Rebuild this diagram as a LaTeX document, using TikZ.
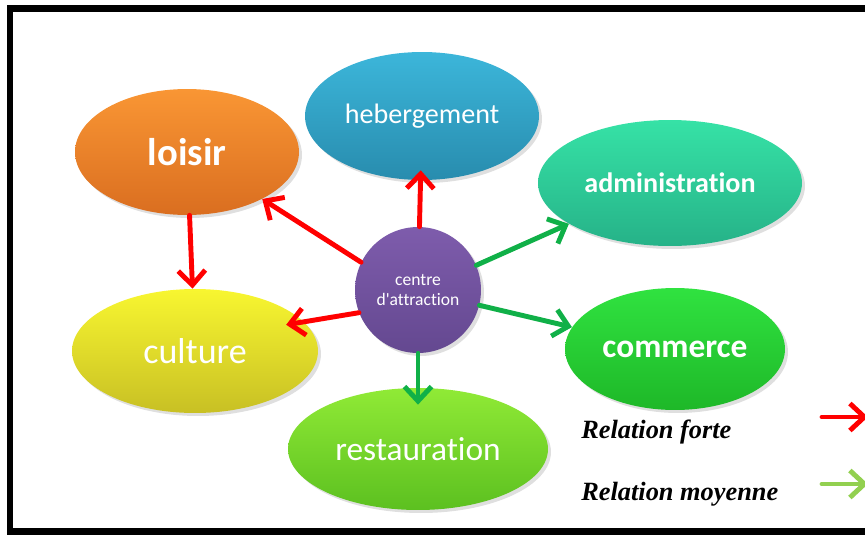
\documentclass[tikz,border=0pt]{standalone}
\usepackage{fontspec}
\setmainfont{Carlito}[Ligatures=NoCommon]
\newfontfamily\legendfont{Liberation Serif}
\usetikzlibrary{shapes.geometric,arrows.meta,shadows}
\definecolor{loisirtop}{RGB}{249, 150, 52}
\definecolor{loisirbot}{RGB}{218, 110, 32}
\definecolor{hebergtop}{RGB}{60, 182, 218}
\definecolor{hebergbot}{RGB}{40, 140, 174}
\definecolor{admintop}{RGB}{54, 226, 166}
\definecolor{adminbot}{RGB}{38, 178, 136}
\definecolor{commtop}{RGB}{48, 226, 64}
\definecolor{commbot}{RGB}{30, 184, 40}
\definecolor{culttop}{RGB}{248, 246, 48}
\definecolor{cultbot}{RGB}{200, 192, 36}
\definecolor{restotop}{RGB}{144, 234, 54}
\definecolor{restobot}{RGB}{92, 192, 32}
\definecolor{centretop}{RGB}{126, 92, 172}
\definecolor{centrebot}{RGB}{100, 72, 144}
\definecolor{arrowgreen}{RGB}{16, 176, 72}
\definecolor{legendgreen}{RGB}{146, 208, 80}
\tikzset{
  bubble/.style={ellipse, inner sep=0pt, text=white,
    drop shadow={shadow xshift=0.6mm, shadow yshift=-0.6mm, opacity=0.25}},
  forte/.style={draw=red, line width=2.8pt, line cap=round, line join=round,
    -{Straight Barb[length=2.9mm, width=5.4mm]}},
  moyenne/.style={forte, draw=arrowgreen},
  legendtext/.style={anchor=base west, inner sep=0pt,
    font=\legendfont\bfseries\itshape\fontsize{15}{18}\selectfont}
}

\begin{document}
\begin{tikzpicture}[x=0.02cm, y=-0.02cm]
            \useasboundingbox (0,0) rectangle (865,534);
            \draw[line width=0.14cm] (10,8.5) rectangle (885,531);
            % bubbles
            \node[bubble, top color=loisirtop, bottom color=loisirbot, minimum width=4.48cm, minimum height=2.52cm,
                  font=\bfseries\fontsize{22}{26}\selectfont]           (loisir)         at (187,152) {loisir};
            \node[bubble, top color=hebergtop, bottom color=hebergbot, minimum width=4.68cm, minimum height=2.56cm,
                  font=\fontsize{16}{19}\selectfont]                    (hebergement)    at (422,116) {hebergement};
            \node[bubble, top color=admintop,  bottom color=adminbot,  minimum width=5.28cm, minimum height=2.52cm,
                  font=\bfseries\fontsize{16}{19}\selectfont]           (administration) at (670,183) {administration};
            \node[bubble, top color=commtop,   bottom color=commbot,   minimum width=4.40cm, minimum height=2.44cm,
                  font=\bfseries\fontsize{19}{23}\selectfont]           (commerce)       at (675,349) {commerce};
            \node[bubble, top color=culttop,   bottom color=cultbot,   minimum width=4.92cm, minimum height=2.48cm,
                  font=\fontsize{20.5}{24}\selectfont]                  (culture)        at (195,351) {culture};
            \node[bubble, top color=restotop,  bottom color=restobot,  minimum width=5.20cm, minimum height=2.44cm,
                  font=\fontsize{19}{23}\selectfont]                    (restauration)   at (418,449) {restauration};
            \node[bubble, circle, top color=centretop, bottom color=centrebot, minimum size=2.52cm, align=center,
                  font=\fontsize{10}{11.5}\selectfont]                  (centre)         at (418,290) {centre\\d\textquotesingle attraction};
            % relations
            \draw[forte]                       (loisir)      -- (culture);
            \draw[forte]                       (centre.154)  -- (loisir.-32);
            \draw[forte, shorten >=-0.2cm]     (centre)      -- (hebergement);
            \draw[forte, shorten >=-0.36cm]    (centre.201)  -- (culture.15);
            \draw[moyenne]                     (centre.23)   -- (administration.202);
            \draw[moyenne]                     (centre.-14)  -- (commerce.168);
            \draw[moyenne, shorten >=-0.34cm]  (centre)      -- (restauration);
            % legend
            \node[legendtext] (forte)   at (581,438) {Relation forte};
            \node[legendtext] (moyenne) at (581,500) {Relation moyenne};
            \coordinate (fortestart)   at (822,417);
            \coordinate (forteend)     at (868,417);
            \coordinate (moyennestart) at (822,484);
            \coordinate (moyenneend)   at (868,484);
            \draw[forte]                       (fortestart)   -- (forteend);
            \draw[moyenne, draw=legendgreen]   (moyennestart) -- (moyenneend);
            \end{tikzpicture}
\end{document}
